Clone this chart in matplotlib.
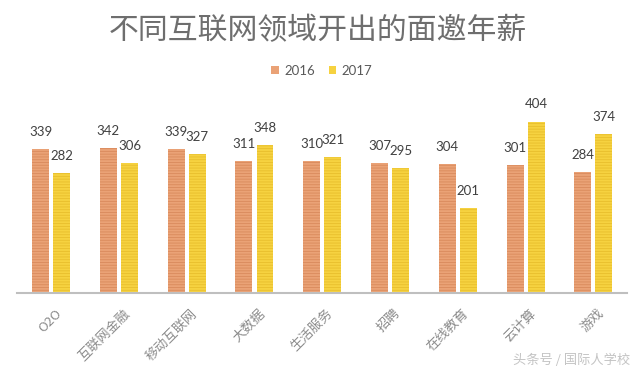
import matplotlib
matplotlib.use("Agg")
import matplotlib.pyplot as plt
import matplotlib.transforms as mtransforms
import numpy as np

plt.rcParams['font.family'] = ['Noto Sans CJK SC', 'DejaVu Sans']
plt.rcParams['hatch.linewidth'] = 0.6

categories = ['O2O', '互联网金融', '移动互联网', '大数据', '生活服务', '招聘', '在线教育', '云计算', '游戏']
series_2016 = [339, 342, 339, 311, 310, 307, 304, 301, 284]
series_2017 = [282, 306, 327, 348, 321, 295, 201, 404, 374]
series_names = ['2016', '2017']

c16, h16 = '#EAA276', '#D98A5C'
c17, h17 = '#F6D240', '#E8BE2C'

fig = plt.figure(figsize=(6.4, 3.73), dpi=100)
ax = fig.add_axes([0.027, 0.2145, 0.953, 0.512])

x = np.arange(len(categories))
w = 0.25
off = 0.155
b1 = ax.bar(x - off, series_2016, width=w, color=c16, edgecolor=h16, linewidth=0,
            hatch='------', label=series_names[0])
b2 = ax.bar(x + off, series_2017, width=w, color=c17, edgecolor=h17, linewidth=0,
            hatch='------', label=series_names[1])

for bars, vals in ((b1, series_2016), (b2, series_2017)):
    for r, v in zip(bars, vals):
        ax.annotate(str(v), (r.get_x() + r.get_width() / 2, v), xytext=(0, 8),
                    textcoords='offset points', ha='center', va='bottom',
                    fontsize=9.5, color='#404040', family=['Lato', 'DejaVu Sans'])

ax.set_xlim(-0.5, len(categories) - 0.5)
ax.set_ylim(0, 450)
ax.set_yticks([])
for s in ['left', 'right', 'top']:
    ax.spines[s].set_visible(False)
ax.spines['bottom'].set_color('#BFBFBF')
ax.spines['bottom'].set_linewidth(1.5)
ax.set_xticks(x)
ax.set_xticklabels(categories, rotation=45, ha='right', rotation_mode='anchor',
                   fontsize=9.5, color='#8C8C8C')
ax.tick_params(axis='x', length=0, pad=10)
shift = mtransforms.ScaledTranslation(4 / 100, 0, fig.dpi_scale_trans)
for lbl in ax.get_xticklabels():
    lbl.set_transform(lbl.get_transform() + shift)

fig.text(0.497, 0.917, '不同互联网领域开出的面邀年薪', ha='center', va='center',
         fontsize=21.5, color='#6E6E6E')

leg = fig.legend(handles=[b1, b2], labels=series_names, loc='center',
                 bbox_to_anchor=(0.503, 0.81), ncol=2, frameon=False,
                 handlelength=0.6, handleheight=0.6,
                 handletextpad=0.4, columnspacing=1.0,
                 prop={'family': ['Lato', 'DejaVu Sans'], 'size': 9.5})
for t in leg.get_texts():
    t.set_color('#595959')
for h in leg.legend_handles:
    h.set_hatch(None)

fig.text(0.985, 0.035, '头条号 / 国际人学校', ha='right', va='center',
         fontsize=9.5, color='#C4C4C4')

fig.savefig('out.png', dpi=100)
